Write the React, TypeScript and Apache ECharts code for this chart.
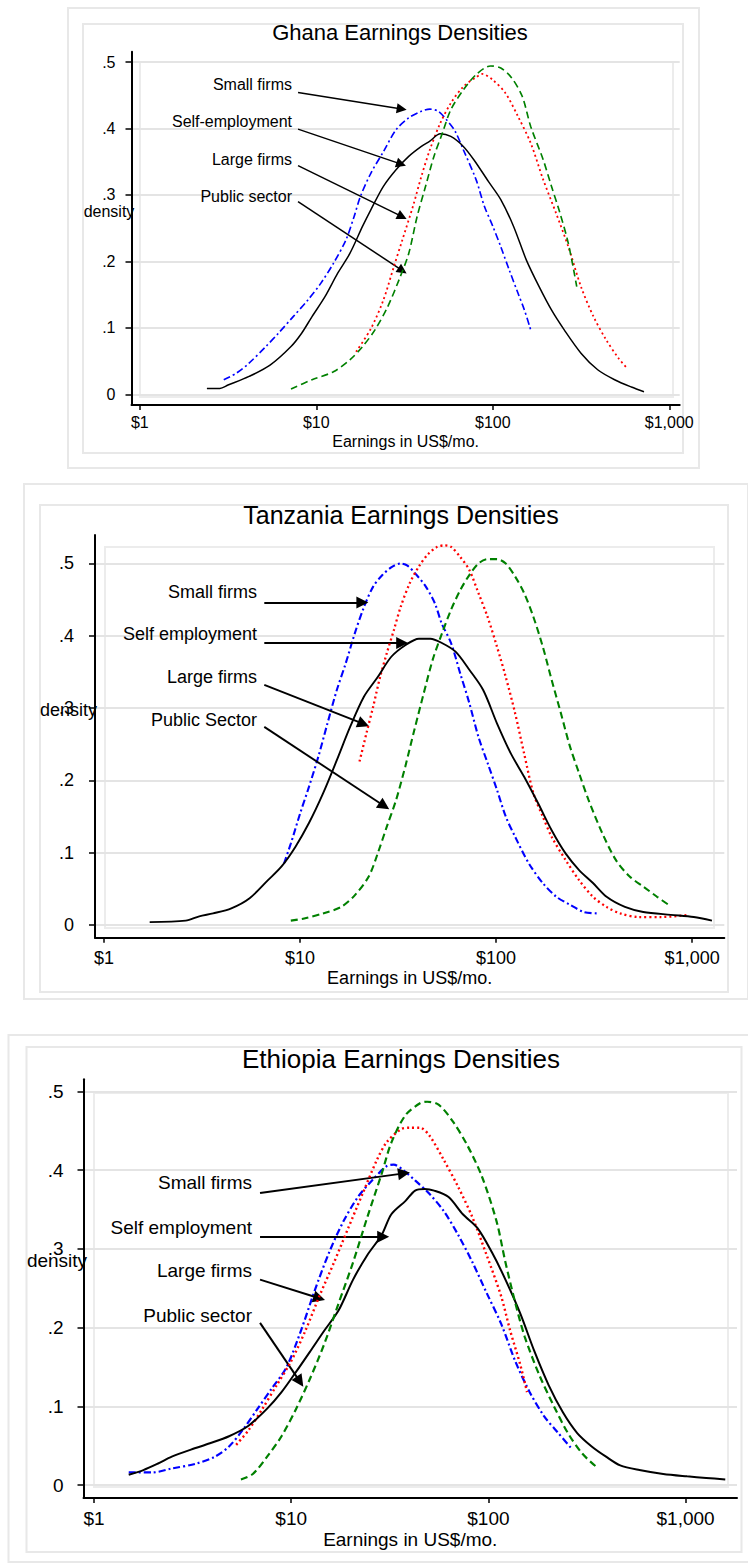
import { useEffect, useRef } from 'react';
import * as echarts from 'echarts';

// ---------- tick labels ----------
const xTickDollars = [1, 10, 100, 1000];
const xTickLabels = ['$1', '$10', '$100', '$1,000'];
const yTickValues = [0, 0.1, 0.2, 0.3, 0.4, 0.5];
const yTickLabels = ['0', '.1', '.2', '.3', '.4', '.5'];

// ---------- data: [earnings US$/mo., density] ----------
const ghanaSelf = [[2.40,.009],[2.84,.009],[3.16,.014],[4.16,.027],[5.47,.044],[7.19,.072],[8.26,.092],[9.46,.117],[11.2,.147],[13.2,.182],[15.5,.212],[18.3,.253],[20.4,.278],[24.0,.313],[28.3,.338],[33.4,.358],[39.4,.373],[44.0,.381],[50.4,.392],[57.8,.388],[68.1,.373],[78.1,.353],[94.6,.320],[111,.293],[131,.253],[155,.202],[183,.162],[215,.127],[254,.097],[316,.062],[393,.037],[490,.022],[610,.011],[719,.004]];
const ghanaSmall = [[2.99,.022],[3.53,.032],[4.16,.047],[5.18,.072],[6.10,.092],[7.40,.117],[8.96,.142],[10.6,.167],[12.5,.197],[14.7,.232],[16.4,.268],[17.8,.298],[20.4,.333],[24.0,.365],[28.3,.398],[33.4,.416],[39.4,.426],[44.0,.429],[49.0,.426],[54.7,.413],[61.1,.396],[68.1,.368],[80.4,.323],[89.6,.283],[100,.253],[111,.222],[124,.187],[139,.152],[151,.127],[164,.097]];
const ghanaLarge = [[16.8,.064],[20.4,.099],[24.0,.142],[27.5,.192],[30.7,.232],[35.3,.283],[39.4,.328],[44.0,.368],[50.4,.408],[57.8,.438],[68.1,.463],[80.4,.477],[87.1,.482],[100,.473],[118,.453],[139,.418],[164,.378],[193,.323],[228,.273],[268,.222],[316,.162],[372,.117],[439,.082],[517,.054],[578,.039]];
const ghanaPublic = [[7.19,.008],[9.46,.022],[12.5,.034],[15.5,.052],[18.3,.072],[21.5,.097],[25.4,.132],[29.9,.177],[33.4,.212],[37.3,.268],[41.6,.313],[46.4,.358],[51.8,.393],[57.8,.428],[68.1,.458],[80.4,.481],[97.2,.494],[111,.491],[128,.476],[147,.448],[164,.403],[193,.353],[215,.313],[240,.273],[268,.227],[299,.162]];

const tzSelf = [[1.71,.004],[2.61,.006],[3.06,.012],[3.60,.016],[4.46,.023],[5.53,.037],[6.86,.062],[8.05,.081],[9.46,.108],[11.1,.141],[13.1,.182],[15.4,.228],[18.0,.274],[21.2,.316],[24.9,.343],[29.2,.371],[34.4,.387],[40.4,.396],[46.2,.396],[52.9,.390],[62.1,.378],[73.0,.353],[85.9,.325],[101,.279],[119,.237],[139,.205],[164,.168],[192,.131],[226,.099],[265,.076],[312,.058],[366,.039],[454,.025],[563,.018],[778,.014],[1019,.011],[1262,.006]];
const tzSmall = [[8.28,.085],[8.98,.113],[10.0,.154],[11.1,.191],[12.4,.233],[13.8,.279],[15.4,.325],[17.1,.362],[19.0,.403],[21.2,.440],[23.6,.468],[26.3,.484],[29.3,.495],[32.6,.500],[35.3,.497],[39.3,.484],[43.8,.468],[48.7,.445],[52.8,.417],[58.9,.390],[65.6,.348],[73.0,.307],[81.3,.260],[90.5,.224],[101,.187],[112,.150],[125,.122],[147,.085],[173,.058],[203,.039],[238,.028],[280,.018],[330,.016]];
const tzLarge = [[20.1,.226],[21.8,.265],[23.6,.302],[25.6,.343],[27.7,.376],[30.1,.408],[32.6,.440],[36.3,.473],[40.4,.496],[45.0,.513],[50.1,.523],[54.3,.525],[58.9,.523],[65.6,.509],[73.0,.491],[81.3,.459],[90.5,.426],[101,.385],[112,.343],[125,.293],[139,.237],[155,.182],[173,.150],[192,.122],[226,.090],[265,.062],[312,.039],[366,.025],[430,.016],[533,.011],[698,.011],[963,.014]];
const tzPublic = [[8.97,.006],[10.5,.009],[13.1,.016],[16.2,.025],[19.0,.041],[22.4,.067],[24.9,.099],[27.7,.136],[30.9,.173],[34.4,.219],[38.3,.270],[42.7,.320],[47.5,.367],[52.9,.403],[58.9,.436],[65.6,.463],[73.0,.484],[81.3,.500],[90.5,.506],[101,.506],[112,.500],[125,.482],[139,.459],[155,.426],[173,.385],[192,.339],[214,.293],[238,.247],[265,.210],[296,.173],[348,.127],[408,.090],[480,.067],[564,.053],[662,.039],[757,.028]];

const etSelf = [[1.50,.013],[1.78,.019],[2.10,.027],[2.48,.036],[3.10,.045],[3.87,.053],[4.84,.062],[6.05,.075],[7.55,.097],[8.93,.118],[10.6,.144],[12.5,.170],[14.7,.196],[17.4,.222],[20.6,.261],[24.3,.292],[28.8,.318],[32.2,.344],[38.0,.361],[42.5,.374],[47.5,.376],[53.1,.374],[62.8,.366],[74.2,.344],[87.7,.327],[104,.296],[122,.261],[145,.218],[171,.170],[202,.127],[239,.092],[282,.066],[334,.049],[395,.036],[466,.025],[583,.019],[770,.014],[1017,.011],[1272,.009],[1589,.007]];
const etSmall = [[1.50,.016],[1.99,.016],[2.48,.021],[3.28,.027],[4.10,.036],[4.84,.049],[5.72,.071],[6.76,.097],[7.99,.123],[9.44,.149],[11.2,.196],[13.2,.248],[15.6,.296],[18.4,.335],[21.8,.366],[25.7,.387],[30.4,.405],[33.1,.407],[37.0,.400],[42.5,.387],[50.2,.370],[59.4,.348],[70.2,.318],[83.0,.283],[98.0,.244],[116,.205],[137,.157],[162,.118],[191,.088],[226,.066],[267,.045]];
const etLarge = [[5.26,.051],[6.05,.069],[7.15,.097],[8.45,.127],[9.98,.157],[11.8,.196],[13.9,.240],[16.5,.283],[19.5,.327],[23.0,.370],[27.2,.413],[30.4,.435],[36.0,.452],[40.2,.454],[45.0,.454],[50.2,.444],[59.4,.413],[70.2,.379],[83.0,.340],[98.0,.292],[116,.240],[129,.196],[145,.153],[157,.118]];
const etPublic = [[5.56,.007],[6.39,.014],[7.55,.036],[8.93,.062],[10.6,.097],[12.5,.136],[14.7,.179],[17.4,.231],[20.6,.283],[24.3,.340],[28.8,.396],[32.2,.435],[38.0,.470],[45.0,.485],[48.9,.487],[56.1,.483],[66.4,.461],[78.4,.431],[92.7,.392],[110,.335],[122,.283],[137,.231],[153,.188],[181,.140],[214,.101],[253,.066],[299,.040],[353,.023]];

// ---------- annotation labels and arrow targets (earnings, density) ----------
const ghanaNotes = ['Small firms', 'Self-employment', 'Large firms', 'Public sector'];
const ghanaArrows = [[[7.88,.454],[32.5,.428]],[[7.88,.399],[32.2,.344]],[[7.88,.344],[32.5,.264]],[[7.88,.290],[32.5,.182]]];
const tzNotes = ['Small firms', 'Self employment', 'Large firms', 'Public Sector'];
const tzArrows = [[[6.57,.446],[22.3,.446]],[[6.57,.390],[35.6,.390]],[[6.57,.332],[22.5,.275]],[[6.57,.274],[28.5,.160]]];
const etNotes = ['Small firms', 'Self employment', 'Large firms', 'Public sector'];
const etArrows = [[[6.95,.371],[40.0,.397]],[[6.95,.3155],[31.4,.3155]],[[6.95,.261],[14.84,.235]],[[6.95,.206],[11.52,.125]]];

const FONT = '"Liberation Sans", Arial, Helvetica, sans-serif';

const seriesNames = ['Self-employment', 'Small firms', 'Large firms', 'Public sector'];
const seriesStyles: any[] = [
  { color: '#000000', type: 'solid', k: 1.0 },
  { color: '#0000ff', type: [7, 3, 2, 3], k: 1.1 },
  { color: '#ff0000', type: [2, 3], k: 1.2 },
  { color: '#008000', type: [7, 4], k: 1.1 },
];

const panels: any[] = [
  {
    title: 'Ghana Earnings Densities', titleX: 400, titleY: 32, titleSize: 22, fontSize: 16,
    grid: { left: 131.5, top: 51.7, width: 548.2, height: 353.3 },
    xMin: -0.047, xMax: 3.059, yMin: -0.016, yMax: 0.5155,
    labelMarginX: 9, labelMarginY: 16, nameGap: 28,
    densityX: 109, densityY: 211, lineWidth: 1.5, head: 10,
    outer: [68, 8, 631, 460], inner: [83, 24, 600, 429], region: [140, 62, 533, 335],
    noteX: 292, noteY: [84, 121.7, 159, 196],
    series: [ghanaSelf, ghanaSmall, ghanaLarge, ghanaPublic], notes: ghanaNotes, arrows: ghanaArrows,
  },
  {
    title: 'Tanzania Earnings Densities', titleX: 401, titleY: 515, titleSize: 25, fontSize: 18,
    grid: { left: 95, top: 535, width: 629.3, height: 402.7 },
    xMin: -0.046, xMax: 3.164, yMin: -0.0176, yMax: 0.5394,
    labelMarginX: 11, labelMarginY: 21, nameGap: 31,
    densityX: 68.5, densityY: 710, lineWidth: 1.9, head: 12,
    outer: [24, 484, 724, 515], inner: [40, 505, 688, 487], region: [105, 547, 609, 381],
    noteX: 257, noteY: [591.7, 634.3, 676.7, 720],
    series: [tzSelf, tzSmall, tzLarge, tzPublic], notes: tzNotes, arrows: tzArrows,
  },
  {
    title: 'Ethiopia Earnings Densities', titleX: 401, titleY: 1059, titleSize: 26, fontSize: 19,
    grid: { left: 83.5, top: 1079.3, width: 653.5, height: 418.7 },
    xMin: -0.0532, xMax: 3.2606, yMin: -0.0165, yMax: 0.5155,
    labelMarginX: 11, labelMarginY: 20, nameGap: 32,
    densityX: 57, densityY: 1260, lineWidth: 2.0, head: 12,
    outer: [8.5, 1035, 745, 527], inner: [26.5, 1047, 715, 505], region: [94, 1093, 634, 394],
    noteX: 252, noteY: [1182.7, 1227.3, 1270.7, 1315],
    series: [etSelf, etSmall, etLarge, etPublic], notes: etNotes, arrows: etArrows,
  },
];

function buildOption() {
  const xTickLogs = xTickDollars.map((d) => Math.log10(d));
  const grid: any[] = [];
  const xAxis: any[] = [];
  const yAxis: any[] = [];
  const series: any[] = [];
  const graphics: any[] = [];

  panels.forEach((p, i) => {
    grid.push({ left: p.grid.left, top: p.grid.top, width: p.grid.width, height: p.grid.height, containLabel: false, outerBoundsMode: 'none' });
    xAxis.push({
      type: 'value', gridIndex: i, min: p.xMin, max: p.xMax,
      name: 'Earnings in US$/mo.', nameLocation: 'middle', nameGap: p.nameGap,
      nameTextStyle: { fontSize: p.fontSize, color: '#000', fontFamily: FONT },
      axisLine: { show: true, onZero: false, lineStyle: { color: '#000', width: 2 } },
      axisTick: { show: true, length: 5, customValues: xTickLogs, lineStyle: { color: '#000', width: 1.5 } },
      axisLabel: {
        show: true, customValues: xTickLogs, margin: p.labelMarginX, fontSize: p.fontSize, color: '#000', fontFamily: FONT,
        formatter: (v: number) => xTickLabels[Math.round(v)],
      },
      splitLine: { show: false },
    });
    yAxis.push({
      type: 'value', gridIndex: i, min: p.yMin, max: p.yMax,
      axisLine: { show: true, onZero: false, lineStyle: { color: '#000', width: 2 } },
      axisTick: { show: true, length: 6, customValues: yTickValues, lineStyle: { color: '#000', width: 1.5 } },
      axisLabel: {
        show: true, customValues: yTickValues, margin: p.labelMarginY, fontSize: p.fontSize, color: '#000', fontFamily: FONT,
        formatter: (v: number) => yTickLabels[Math.round(v * 10)],
      },
      splitLine: { show: true, lineStyle: { color: '#e4e4e4', width: 2 } },
    });

    const sx = p.grid.width / (p.xMax - p.xMin);
    const sy = p.grid.height / (p.yMax - p.yMin);
    const arrowData = p.arrows.map((a: number[][]) => {
      const x1 = Math.log10(a[0][0]);
      const y1 = a[0][1];
      const x2 = Math.log10(a[1][0]);
      const y2 = a[1][1];
      const dxp = (x2 - x1) * sx;
      const dyp = -(y2 - y1) * sy;
      const len = Math.sqrt(dxp * dxp + dyp * dyp);
      const h = p.head / 2;
      const ex = x2 - (dxp / len) * h / sx;
      const ey = y2 + (dyp / len) * h / sy;
      return [{ coord: [x1, y1] }, { coord: [ex, ey] }];
    });

    p.series.forEach((data: number[][], k: number) => {
      const st = seriesStyles[k];
      const s: any = {
        type: 'line', name: seriesNames[k], xAxisIndex: i, yAxisIndex: i,
        data: data.map((d) => [Math.log10(d[0]), d[1]]),
        showSymbol: false, symbol: 'none', smooth: 0.3, silent: true, z: 3 + (3 - k) * 0 + k,
        lineStyle: { color: st.color, width: p.lineWidth * st.k, type: st.type, cap: 'butt' },
        emphasis: { disabled: true },
      };
      if (k === 0) {
        s.z = 6;
        s.markLine = {
          silent: true, symbol: ['none', 'triangle'], symbolSize: p.head,
          label: { show: false }, emphasis: { disabled: true },
          lineStyle: { color: '#000', width: p.lineWidth, type: 'solid' },
          data: arrowData,
        };
      }
      series.push(s);
    });

    const rectStyle = { fill: 'none', stroke: '#e8e8e8', lineWidth: 2 };
    graphics.push({ type: 'rect', silent: true, z: 0, shape: { x: p.outer[0], y: p.outer[1], width: p.outer[2], height: p.outer[3] }, style: rectStyle });
    graphics.push({ type: 'rect', silent: true, z: 0, shape: { x: p.inner[0], y: p.inner[1], width: p.inner[2], height: p.inner[3] }, style: rectStyle });
    graphics.push({ type: 'rect', silent: true, z: 0, shape: { x: p.region[0], y: p.region[1], width: p.region[2], height: p.region[3] }, style: { fill: 'none', stroke: '#ececec', lineWidth: 2 } });
    graphics.push({ type: 'text', silent: true, z: 10, x: p.titleX, y: p.titleY, style: { text: p.title, fontSize: p.titleSize, fontFamily: FONT, fill: '#000', align: 'center', verticalAlign: 'middle' } });
    graphics.push({ type: 'text', silent: true, z: 10, x: p.densityX, y: p.densityY, style: { text: 'density', fontSize: p.fontSize, fontFamily: FONT, fill: '#000', align: 'center', verticalAlign: 'middle' } });
    p.notes.forEach((t: string, j: number) => {
      graphics.push({ type: 'text', silent: true, z: 10, x: p.noteX, y: p.noteY[j], style: { text: t, fontSize: p.fontSize, fontFamily: FONT, fill: '#000', align: 'right', verticalAlign: 'middle' } });
    });
  });

  return {
    animation: false,
    backgroundColor: '#ffffff',
    grid, xAxis, yAxis, series,
    graphic: { elements: graphics },
  };
}

export default function App() {
  const ref = useRef<HTMLDivElement>(null);
  useEffect(() => {
    if (!ref.current) return;
    const chart = echarts.init(ref.current, null, { renderer: 'svg' });
    chart.setOption(buildOption() as any);
    return () => chart.dispose();
  }, []);
  return <div ref={ref} style={{ position: 'absolute', left: 0, top: 0, width: 748, height: 1567 }} />;
}
